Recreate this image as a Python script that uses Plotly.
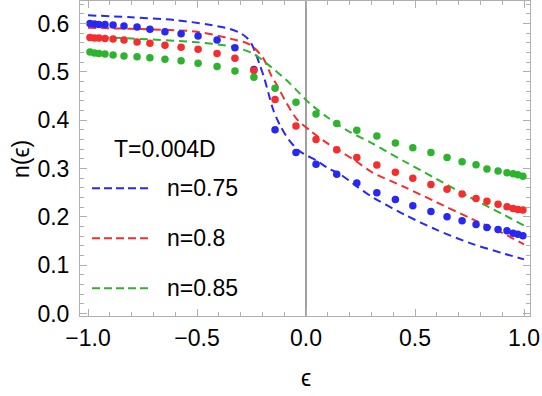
import plotly.graph_objects as go

# ---- data ----
eps_pts = [-0.991, -0.970, -0.950, -0.922, -0.885, -0.835, -0.775, -0.716, -0.647, -0.573,
           -0.495, -0.408, -0.326, -0.239, -0.142, -0.046, 0.046, 0.141, 0.233, 0.325,
           0.410, 0.490, 0.573, 0.647, 0.716, 0.780, 0.830, 0.881, 0.922, 0.950, 0.972, 0.995]
n075_pts = [0.600, 0.599, 0.598, 0.598, 0.597, 0.595, 0.593, 0.588, 0.583, 0.579,
            0.574, 0.566, 0.550, 0.505, 0.380, 0.333, 0.309, 0.288, 0.270, 0.250,
            0.236, 0.223, 0.211, 0.200, 0.192, 0.184, 0.178, 0.174, 0.171, 0.166, 0.164, 0.161]
n080_pts = [0.571, 0.570, 0.570, 0.569, 0.568, 0.566, 0.562, 0.559, 0.555, 0.551,
            0.547, 0.538, 0.528, 0.503, 0.443, 0.388, 0.360, 0.339, 0.323, 0.307,
            0.292, 0.280, 0.267, 0.257, 0.247, 0.238, 0.232, 0.226, 0.221, 0.217, 0.215, 0.214]
n085_pts = [0.541, 0.539, 0.538, 0.537, 0.535, 0.533, 0.531, 0.529, 0.526, 0.523,
            0.518, 0.511, 0.502, 0.489, 0.466, 0.437, 0.413, 0.393, 0.379, 0.367,
            0.353, 0.343, 0.333, 0.323, 0.314, 0.308, 0.299, 0.295, 0.291, 0.289, 0.287, 0.284]

eps_l075 = [-1.0, -0.8, -0.6, -0.45, -0.35, -0.30, -0.27, -0.25, -0.23, -0.21, -0.19, -0.17,
            -0.15, -0.12, -0.08, -0.03, 0.05, 0.10, 0.16, 0.23, 0.30, 0.45, 0.60, 0.75, 0.90, 1.0]
n_l075 = [0.617, 0.613, 0.607, 0.598, 0.589, 0.580, 0.570, 0.558, 0.537, 0.512, 0.485, 0.452,
          0.421, 0.390, 0.360, 0.336, 0.316, 0.301, 0.287, 0.264, 0.242, 0.205, 0.173, 0.146, 0.125, 0.112]

eps_l080 = [-1.0, -0.8, -0.5, -0.35, -0.26, -0.20, -0.157, -0.135, -0.09, -0.04, 0.02, 0.095,
            0.156, 0.23, 0.30, 0.45, 0.60, 0.75, 0.90, 1.0]
n_l080 = [0.591, 0.589, 0.583, 0.569, 0.557, 0.531, 0.490, 0.474, 0.436, 0.401, 0.378, 0.353,
          0.336, 0.315, 0.293, 0.262, 0.230, 0.198, 0.167, 0.143]

eps_l085 = [-1.0, -0.8, -0.5, -0.335, -0.243, -0.18, -0.09, -0.03, 0.0, 0.035, 0.095, 0.156,
            0.20, 0.30, 0.45, 0.60, 0.75, 0.90, 1.0]
n_l085 = [0.572, 0.569, 0.561, 0.552, 0.538, 0.517, 0.483, 0.456, 0.442, 0.428, 0.407, 0.388,
          0.376, 0.353, 0.315, 0.278, 0.241, 0.206, 0.182]

labels = ["n=0.75", "n=0.8", "n=0.85"]
colors = ["rgb(40,40,245)", "rgb(245,45,45)", "rgb(45,180,45)"]
title_text = "T=0.004D"

FONT = "Liberation Sans, Arial, sans-serif"

fig = go.Figure()

lines = [(eps_l075, n_l075), (eps_l080, n_l080), (eps_l085, n_l085)]
for (xs, ys), c, lab in zip(lines, colors, labels):
    fig.add_trace(go.Scatter(x=xs, y=ys, mode="lines", name=lab,
                             line=dict(color=c, width=2, dash="8px,5px", shape="spline", smoothing=0.8),
                             showlegend=False))

for ys, c in zip([n075_pts, n080_pts, n085_pts], colors):
    fig.add_trace(go.Scatter(x=eps_pts, y=ys, mode="markers",
                             marker=dict(color=c, size=7.5, line=dict(width=0)),
                             showlegend=False))

# vertical line at eps = 0
fig.add_shape(type="line", xref="x", yref="paper", x0=0, x1=0, y0=0, y1=1,
              line=dict(color="rgb(128,128,128)", width=1.5), layer="below")

# manual legend
leg_y = [0.4054, 0.2467, 0.0879]
for yy, c, lab in zip(leg_y, colors, labels):
    fig.add_shape(type="line", xref="paper", yref="paper", x0=0.0267, x1=0.151, y0=yy, y1=yy,
                  line=dict(color=c, width=2, dash="8px,4px"))
    fig.add_annotation(xref="paper", yref="paper", x=0.189, y=yy, text=lab, showarrow=False,
                       xanchor="left", yanchor="middle", font=dict(family=FONT, size=23, color="black"))
fig.add_annotation(xref="paper", yref="paper", x=0.189, y=0.5317, text=title_text, showarrow=False,
                   xanchor="center", yanchor="middle", font=dict(family=FONT, size=23, color="black"))

# axis titles
fig.add_annotation(xref="paper", yref="paper", x=(306 - 80) / 450, y=(316 - 378) / 315, text="ϵ",
                   showarrow=False, xanchor="center", yanchor="middle",
                   font=dict(family=FONT, size=23, color="black"))
fig.add_annotation(xref="paper", yref="paper", x=(21 - 80) / 450, y=(316 - 159) / 315, text="n(ϵ)",
                   showarrow=False, xanchor="center", yanchor="middle", textangle=-90,
                   font=dict(family=FONT, size=23, color="black"))

axis_common = dict(showgrid=False, zeroline=False, showline=True, linecolor="rgb(175,175,175)",
                   linewidth=1, mirror="allticks", ticks="inside", tickcolor="rgb(175,175,175)",
                   tickwidth=1, ticklen=7, tickfont=dict(family=FONT, size=23, color="black"))

fig.update_xaxes(range=[-1.0367, 1.0275], tickvals=[-1.0, -0.5, 0.0, 0.5, 1.0],
                 ticktext=["−1.0", "−0.5", "0.0", "0.5", "1.0"],
                 minor=dict(dtick=0.1, tick0=0, ticks="inside", ticklen=4, tickcolor="rgb(175,175,175)"),
                 ticklabelstandoff=1, **axis_common)
fig.update_yaxes(range=[-0.0052, 0.6466], tickvals=[0.0, 0.1, 0.2, 0.3, 0.4, 0.5, 0.6],
                 ticktext=["0.0", "0.1", "0.2", "0.3", "0.4", "0.5", "0.6"],
                 minor=dict(dtick=0.02, tick0=0, ticks="inside", ticklen=4, tickcolor="rgb(175,175,175)"),
                 ticklabelstandoff=5, **axis_common)

fig.update_layout(width=542, height=396, margin=dict(l=80, r=12, t=1, b=80),
                  paper_bgcolor="white", plot_bgcolor="white", showlegend=False)

fig.write_html("out.html")
